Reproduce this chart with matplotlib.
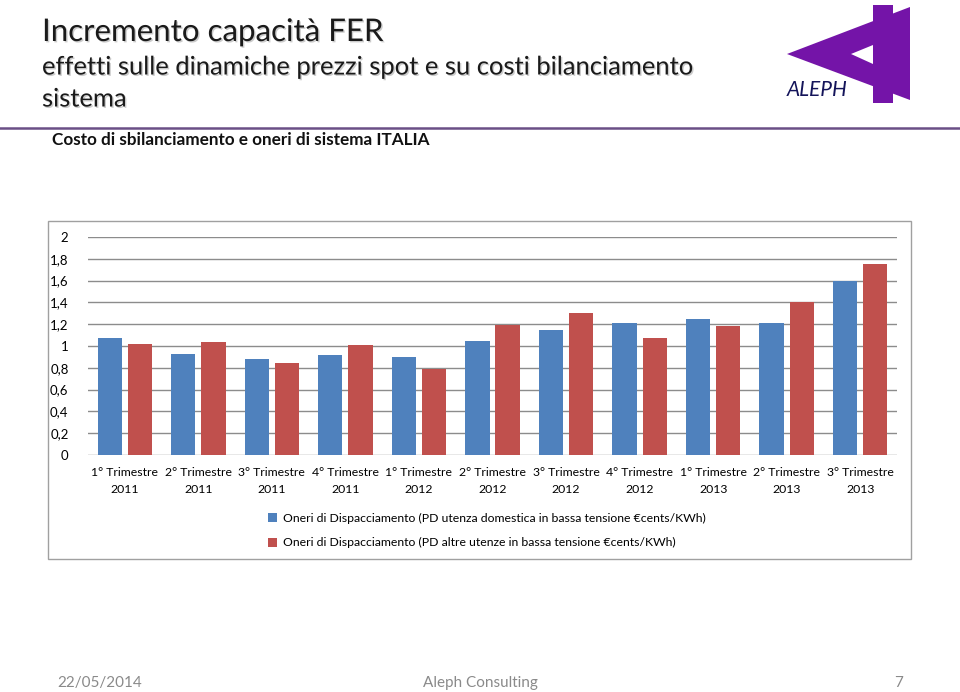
import numpy as np
import matplotlib.pyplot as plt
import matplotlib.patheffects as pe
from matplotlib.patches import Polygon, Rectangle

plt.rcParams['font.family'] = ['Lato', 'DejaVu Sans']

quarters = ["1° Trimestre\n2011", "2° Trimestre\n2011", "3° Trimestre\n2011", "4° Trimestre\n2011",
            "1° Trimestre\n2012", "2° Trimestre\n2012", "3° Trimestre\n2012", "4° Trimestre\n2012",
            "1° Trimestre\n2013", "2° Trimestre\n2013", "3° Trimestre\n2013"]
domestica = [1.07, 0.93, 0.88, 0.92, 0.90, 1.05, 1.15, 1.21, 1.25, 1.21, 1.60]
altre = [1.02, 1.04, 0.84, 1.01, 0.79, 1.19, 1.30, 1.07, 1.18, 1.40, 1.75]
yticks = [0, 0.2, 0.4, 0.6, 0.8, 1, 1.2, 1.4, 1.6, 1.8, 2]
ytick_labels = ["0", "0,2", "0,4", "0,6", "0,8", "1", "1,2", "1,4", "1,6", "1,8", "2"]

label_dom = "Oneri di Dispacciamento (PD utenza domestica in bassa tensione €cents/KWh)"
label_alt = "Oneri di Dispacciamento (PD altre utenze in bassa tensione €cents/KWh)"

W, H = 960, 692
fig = plt.figure(figsize=(W / 100, H / 100), dpi=100)

# overlay in pixel coordinates for header, logo, footer
bg = fig.add_axes([0, 0, 1, 1])
bg.set_xlim(0, W)
bg.set_ylim(H, 0)
bg.axis('off')

shadow = [pe.SimplePatchShadow(offset=(1, -1), shadow_rgbFace='#999999', alpha=0.5), pe.Normal()]
bg.text(42, 32, "Incremento capacità FER", fontsize=22.5, color='#1a1a1a',
        va='center', ha='left', path_effects=shadow)
bg.text(42, 67, "effetti sulle dinamiche prezzi spot e su costi bilanciamento", fontsize=18.4,
        color='#1a1a1a', va='center', ha='left', path_effects=shadow)
bg.text(42, 99, "sistema", fontsize=18.4, color='#1a1a1a', va='center', ha='left', path_effects=shadow)
bg.plot([0, W], [128, 128], color='#6a4f86', lw=1.8)
bg.text(52, 140, "Costo di sbilanciamento e oneri di sistema ITALIA", fontsize=12.3,
        fontweight='bold', color='#111111', va='center', ha='left')

# logo
purple = '#7414a8'
bg.add_patch(Polygon([(787, 54), (910, 7), (910, 100)], closed=True, color=purple, lw=0))
bg.add_patch(Rectangle((873, 5), 20, 98, color=purple, lw=0))
bg.add_patch(Polygon([(851, 54), (873, 45), (873, 64)], closed=True, color='white', lw=0))
bg.text(787, 90, "ALEPH", fontsize=15, fontstyle='italic', color='#14145a', va='center', ha='left')

# chart frame
bg.add_patch(Rectangle((48, 221), 863, 338, fill=False, edgecolor='#a0a0a0', lw=1))

# footer
bg.text(57, 683, "22/05/2014", fontsize=11, color='#8a8a8a', va='center', ha='left')
bg.text(480, 683, "Aleph Consulting", fontsize=11, color='#8a8a8a', va='center', ha='center')
bg.text(903, 683, "7", fontsize=11, color='#8a8a8a', va='center', ha='right')

# bar chart
ax = fig.add_axes([88 / W, 1 - 455 / H, (897 - 88) / W, (455 - 237) / H])
x = np.arange(len(quarters))
bw = 0.33
ax.bar(x - 0.205, domestica, bw, color='#4f81bd', label=label_dom, zorder=3)
ax.bar(x + 0.205, altre, bw, color='#c0504d', label=label_alt, zorder=3)
ax.set_xlim(-0.5, len(quarters) - 0.5)
ax.set_ylim(0, 2)
ax.set_yticks(yticks)
ax.set_yticklabels(ytick_labels, fontsize=9.5)
ax.set_xticks(x)
ax.set_xticklabels(quarters, fontsize=8.8, linespacing=1.6)
ax.tick_params(length=0, pad=14, axis='y')
ax.tick_params(length=0, pad=9, axis='x')
ax.grid(axis='y', color='#8c8c8c', lw=1, zorder=0)
for s in ax.spines.values():
    s.set_visible(False)

fig.legend(loc='upper left', bbox_to_anchor=(263 / W, 1 - 508 / H), frameon=False,
           fontsize=8.8, handlelength=0.75, handleheight=0.75, handletextpad=0.45,
           labelspacing=1.1, borderaxespad=0)

fig.savefig('out.png', dpi=100)
